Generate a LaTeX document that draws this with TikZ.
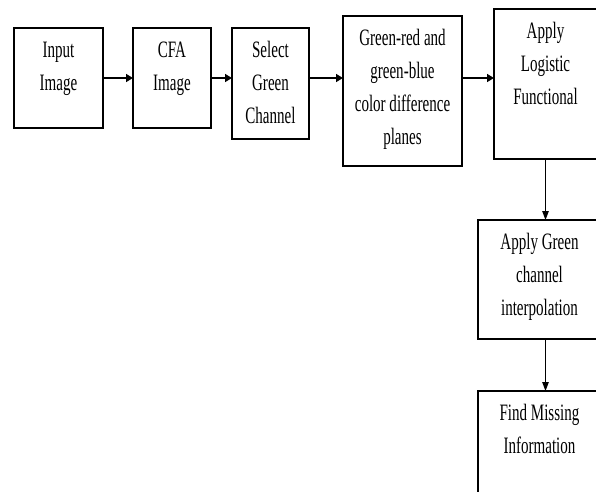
\documentclass[tikz,border=0pt]{standalone}
\usepackage{fontspec}
\setmainfont{Liberation Serif}[FakeStretch=0.64]
\usetikzlibrary{arrows.meta}
\newcommand\fl{\rule{0pt}{17pt}}
\begin{document}
\begin{tikzpicture}[x=1pt,y=-1pt,
  box/.style={draw, line width=1.1pt, inner sep=0pt, outer sep=0pt, rectangle},
  txt/.style={anchor=north, inner sep=0pt, align=center, font=\fontsize{23.5}{33}\selectfont},
  arr/.style={line width=1.5pt, -{Triangle[length=7pt,width=8pt]}},
  varr/.style={line width=1pt, -{Triangle[length=9pt,width=6.5pt]}}]
\useasboundingbox (0,0) rectangle (596,491);
\clip (0,0) rectangle (596,491);
\node[box, minimum width=89pt, minimum height=100pt] (b1) at (58.5,78) {};
\node[box, minimum width=78pt, minimum height=100pt] (b2) at (172,78) {};
\node[box, minimum width=77pt, minimum height=111pt] (b3) at (270.5,83.5) {};
\node[box, minimum width=119pt, minimum height=150pt] (b4) at (402.5,91) {};
\node[box, minimum width=103pt, minimum height=150pt] (b5) at (545.5,84) {};
\node[box, minimum width=123pt, minimum height=119pt] (b6) at (539.5,279.5) {};
\node[box, minimum width=123pt, minimum height=129pt] (b7) at (539.5,455.5) {};
\node[txt] (t1) at ([yshift=-12.5pt]b1.north) {\fl Input\\Image};
\node[txt] (t2) at ([yshift=-12.5pt]b2.north) {\fl CFA\\Image};
\node[txt] (t3) at ([yshift=-12.5pt]b3.north) {\fl Select\\Green\\Channel};
\node[txt] (t4) at ([yshift=-12.5pt]b4.north) {\fl Green-red and\\green-blue\\color difference\\planes};
\node[txt] (t5) at ([yshift=-12.5pt]b5.north) {\fl Apply\\Logistic\\Functional};
\node[txt] (t6) at ([yshift=-12.5pt]b6.north) {\fl Apply Green\\channel\\interpolation};
\node[txt] (t7) at ([yshift=-12.5pt]b7.north) {\fl Find Missing\\Information};
\draw[arr] (b1.east) -- (b2.west);
\draw[arr] (b2.east) -- (b2.east -| b3.west);
\draw[arr] (b3.east |- b1.east) -- (b4.west |- b1.east);
\draw[arr] (b4.east |- b1.east) -- (b5.west |- b1.east);
\draw[varr] (b5.south) -- (b5.south |- b6.north);
\draw[varr] (b5.south |- b6.south) -- (b5.south |- b7.north);
\end{tikzpicture}
\end{document}
